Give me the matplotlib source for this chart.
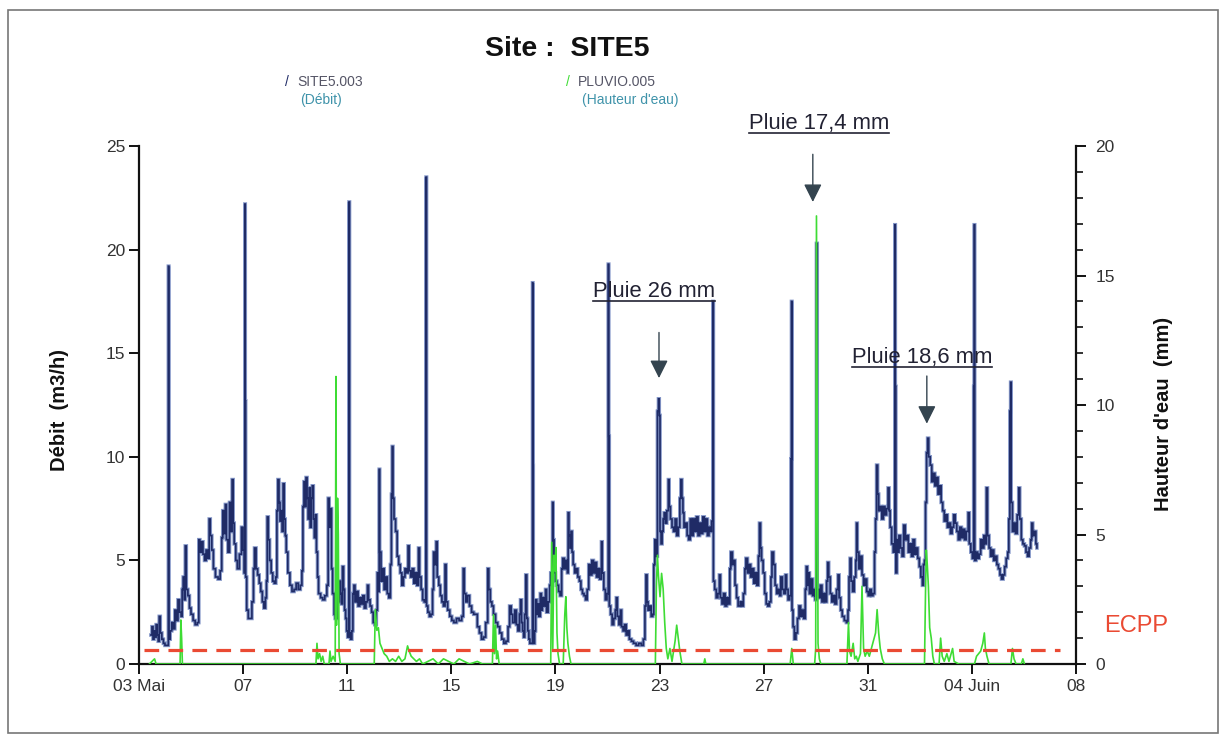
# -*- coding: utf-8 -*-
import numpy as np
import matplotlib
matplotlib.use('Agg')
import matplotlib.pyplot as plt
from matplotlib.lines import Line2D
from matplotlib.patches import Rectangle

plt.rcParams['font.family'] = ['Liberation Sans', 'DejaVu Sans']

# temps en jours depuis le 03 mai 00h, debit en m3/h
debit = [
    (0.46, 1.4), (0.50, 1.8), (0.54, 1.2), (0.58, 1.6), (0.62, 1.3), (0.66, 1.9), (0.70, 1.4),
    (0.74, 1.1), (0.78, 2.3), (0.82, 1.5), (0.88, 1.2), (0.94, 1.0), (1.00, 0.9), (1.08, 0.9),
    (1.13, 19.2), (1.15, 1.2), (1.20, 1.6), (1.26, 2.0), (1.32, 1.7), (1.38, 2.6), (1.44, 2.1),
    (1.50, 3.1), (1.56, 2.5), (1.62, 2.3), (1.66, 3.6), (1.70, 4.2), (1.74, 3.1), (1.78, 5.7),
    (1.82, 3.6), (1.88, 3.3), (1.94, 2.7), (2.00, 2.4), (2.08, 2.1), (2.16, 1.9), (2.24, 2.0),
    (2.30, 6.0), (2.34, 5.4), (2.40, 5.9), (2.46, 5.3), (2.52, 5.0), (2.58, 5.5), (2.64, 5.1),
    (2.70, 7.0), (2.74, 6.2), (2.80, 5.5), (2.86, 4.6), (2.94, 4.2), (3.04, 4.1), (3.12, 4.5),
    (3.18, 6.1), (3.22, 7.4), (3.26, 6.3), (3.32, 7.7), (3.36, 6.0), (3.42, 5.4), (3.48, 7.8),
    (3.52, 6.4), (3.58, 8.9), (3.62, 6.8), (3.66, 5.8), (3.72, 5.0), (3.78, 4.6), (3.86, 5.3),
    (3.94, 6.6), (4.00, 5.5), (4.04, 4.4), (4.07, 22.2), (4.085, 12.7), (4.10, 4.2), (4.14, 2.6),
    (4.20, 2.2), (4.28, 2.2), (4.34, 3.0), (4.40, 4.6), (4.44, 5.6), (4.50, 4.6), (4.56, 4.3),
    (4.62, 3.9), (4.68, 3.5), (4.74, 3.0), (4.80, 2.7), (4.86, 3.2), (4.90, 4.0), (4.93, 7.1),
    (4.97, 6.0), (5.02, 5.0), (5.08, 4.4), (5.14, 4.0), (5.20, 3.9), (5.26, 4.2), (5.30, 7.4),
    (5.34, 8.9), (5.38, 7.8), (5.42, 6.9), (5.46, 7.4), (5.50, 6.4), (5.54, 8.7), (5.58, 7.0),
    (5.62, 6.2), (5.66, 5.4), (5.72, 4.4), (5.80, 3.8), (5.88, 3.5), (5.96, 3.6), (6.04, 3.9),
    (6.12, 3.6), (6.20, 3.8), (6.26, 4.5), (6.30, 7.6), (6.34, 8.8), (6.38, 7.6), (6.42, 9.0),
    (6.46, 8.0), (6.50, 7.0), (6.54, 8.5), (6.58, 6.6), (6.62, 8.0), (6.66, 8.6), (6.70, 7.0),
    (6.74, 6.1), (6.78, 7.2), (6.82, 5.4), (6.86, 4.2), (6.90, 3.4), (6.98, 3.2), (7.06, 3.1),
    (7.14, 3.3), (7.22, 3.8), (7.27, 8.0), (7.31, 6.6), (7.36, 7.5), (7.40, 4.6), (7.44, 3.4),
    (7.50, 2.4), (7.54, 2.2), (7.58, 2.2), (7.62, 3.6), (7.66, 3.0), (7.70, 4.0), (7.74, 3.4),
    (7.78, 2.9), (7.82, 4.7), (7.86, 3.6), (7.90, 2.6), (7.94, 2.2), (7.98, 1.6), (8.02, 1.3),
    (8.07, 22.3), (8.09, 1.5), (8.13, 1.2), (8.18, 1.6), (8.22, 3.4), (8.26, 3.8), (8.30, 3.0),
    (8.36, 3.5), (8.42, 2.8), (8.48, 3.2), (8.54, 2.9), (8.60, 3.3), (8.66, 2.7), (8.72, 3.0),
    (8.78, 3.8), (8.82, 3.1), (8.88, 2.8), (8.94, 2.5), (9.00, 2.0), (9.06, 1.9), (9.12, 2.6),
    (9.16, 4.4), (9.20, 3.5), (9.23, 9.4), (9.25, 5.4), (9.30, 4.0), (9.36, 4.6), (9.42, 3.6),
    (9.48, 4.2), (9.54, 3.4), (9.60, 3.2), (9.66, 4.8), (9.70, 8.2), (9.73, 10.5), (9.76, 8.0),
    (9.80, 7.0), (9.86, 6.4), (9.92, 5.2), (9.98, 4.8), (10.04, 4.4), (10.10, 3.8), (10.16, 4.2),
    (10.22, 4.6), (10.28, 4.4), (10.34, 5.7), (10.38, 4.5), (10.44, 4.2), (10.50, 4.6),
    (10.56, 3.9), (10.62, 4.4), (10.68, 3.8), (10.74, 5.6), (10.78, 4.2), (10.84, 3.6),
    (10.90, 3.1), (10.96, 3.0), (11.03, 23.5), (11.05, 2.8), (11.10, 2.5), (11.16, 2.3),
    (11.22, 2.4), (11.28, 3.6), (11.32, 5.4), (11.36, 4.8), (11.42, 5.9), (11.46, 4.2),
    (11.52, 3.8), (11.58, 3.3), (11.64, 3.0), (11.70, 2.8), (11.76, 4.8), (11.80, 3.0),
    (11.86, 2.6), (11.94, 2.3), (12.02, 2.1), (12.10, 2.0), (12.20, 2.2), (12.30, 2.1),
    (12.40, 2.3), (12.46, 4.6), (12.50, 3.4), (12.56, 3.0), (12.62, 3.3), (12.70, 2.8),
    (12.78, 2.5), (12.86, 2.4), (12.94, 2.4), (13.00, 1.8), (13.08, 1.5), (13.16, 1.2),
    (13.24, 1.3), (13.32, 2.0), (13.40, 4.6), (13.44, 3.6), (13.50, 3.0), (13.56, 2.8),
    (13.62, 2.4), (13.70, 2.0), (13.78, 1.8), (13.86, 1.5), (13.94, 1.2), (14.02, 1.0),
    (14.10, 1.1), (14.18, 1.8), (14.24, 2.8), (14.30, 2.4), (14.36, 2.0), (14.44, 2.6),
    (14.50, 1.9), (14.56, 1.6), (14.62, 2.4), (14.66, 3.1), (14.70, 2.0), (14.74, 1.6),
    (14.78, 1.3), (14.82, 2.4), (14.86, 4.3), (14.90, 2.2), (14.94, 1.6), (14.98, 1.2),
    (15.02, 1.0), (15.08, 1.0), (15.12, 18.4), (15.135, 9.6), (15.15, 1.0), (15.20, 1.6),
    (15.24, 3.1), (15.28, 2.4), (15.32, 2.9), (15.36, 2.3), (15.42, 3.4), (15.46, 2.6),
    (15.50, 3.2), (15.56, 2.8), (15.62, 3.6), (15.66, 2.5), (15.72, 3.0), (15.78, 3.8),
    (15.82, 4.4), (15.86, 3.8), (15.89, 7.8), (15.91, 6.0), (15.95, 4.4), (16.00, 4.0),
    (16.06, 3.8), (16.12, 3.5), (16.18, 3.3), (16.24, 4.6), (16.28, 5.1), (16.34, 4.6),
    (16.40, 5.0), (16.46, 4.4), (16.49, 7.3), (16.52, 6.2), (16.56, 5.6), (16.60, 6.4),
    (16.64, 5.4), (16.68, 4.8), (16.74, 4.4), (16.80, 4.6), (16.86, 4.2), (16.92, 4.0),
    (16.98, 3.6), (17.04, 3.4), (17.10, 3.3), (17.16, 3.1), (17.22, 3.6), (17.28, 4.8),
    (17.34, 4.3), (17.40, 5.0), (17.46, 4.4), (17.52, 4.9), (17.58, 4.2), (17.64, 4.6),
    (17.70, 4.1), (17.77, 5.9), (17.80, 4.4), (17.86, 3.6), (17.92, 3.1), (17.98, 3.4),
    (18.03, 19.3), (18.05, 11.0), (18.07, 2.8), (18.12, 2.4), (18.18, 1.9), (18.24, 2.2),
    (18.30, 2.6), (18.34, 3.2), (18.38, 2.3), (18.44, 1.9), (18.50, 2.6), (18.54, 1.8),
    (18.60, 1.6), (18.66, 1.9), (18.72, 1.4), (18.78, 1.6), (18.84, 1.2), (18.92, 1.1),
    (19.00, 1.0), (19.10, 0.9), (19.20, 1.0), (19.30, 0.9), (19.38, 1.2), (19.44, 2.8),
    (19.48, 4.3), (19.52, 3.0), (19.56, 2.6), (19.62, 2.8), (19.68, 2.3), (19.74, 2.4),
    (19.78, 4.8), (19.82, 6.0), (19.86, 5.2), (19.92, 12.2), (19.96, 12.8), (19.99, 12.0),
    (20.02, 6.4), (20.06, 5.8), (20.10, 6.4), (20.14, 7.0), (20.18, 7.3), (20.22, 6.8),
    (20.28, 7.4), (20.34, 8.9), (20.37, 7.6), (20.42, 7.0), (20.48, 6.6), (20.54, 6.4),
    (20.60, 7.0), (20.66, 6.2), (20.72, 6.6), (20.78, 8.0), (20.82, 8.9), (20.86, 8.0),
    (20.90, 7.3), (20.94, 6.6), (21.00, 6.8), (21.06, 6.2), (21.12, 6.0), (21.18, 7.0),
    (21.24, 6.2), (21.30, 7.0), (21.36, 6.4), (21.42, 7.1), (21.48, 6.2), (21.54, 6.8),
    (21.60, 6.3), (21.66, 7.1), (21.72, 6.4), (21.78, 7.0), (21.84, 6.2), (21.90, 6.6),
    (21.96, 6.4), (22.00, 6.9), (22.05, 17.5), (22.07, 4.0), (22.12, 3.6), (22.18, 3.2),
    (22.24, 3.4), (22.30, 4.3), (22.34, 3.2), (22.40, 2.9), (22.46, 3.4), (22.52, 2.8),
    (22.58, 3.2), (22.64, 2.9), (22.70, 4.6), (22.74, 5.4), (22.80, 4.8), (22.86, 5.0),
    (22.90, 3.8), (22.96, 3.2), (23.02, 2.8), (23.10, 3.0), (23.16, 2.8), (23.22, 3.4),
    (23.28, 4.6), (23.32, 5.1), (23.38, 4.4), (23.44, 4.8), (23.50, 4.2), (23.56, 4.6),
    (23.62, 3.9), (23.68, 4.4), (23.74, 3.8), (23.80, 5.2), (23.84, 6.8), (23.88, 5.6),
    (23.92, 5.0), (23.98, 4.4), (24.04, 3.4), (24.10, 2.9), (24.16, 2.8), (24.22, 3.0),
    (24.28, 4.2), (24.32, 5.4), (24.38, 4.8), (24.44, 3.8), (24.50, 3.4), (24.56, 3.6),
    (24.62, 3.3), (24.66, 4.2), (24.72, 3.6), (24.78, 3.4), (24.84, 4.3), (24.88, 3.6),
    (24.94, 3.1), (25.00, 3.3), (25.05, 9.9), (25.07, 17.5), (25.09, 2.6), (25.13, 1.8),
    (25.18, 1.2), (25.24, 1.5), (25.30, 2.2), (25.36, 2.8), (25.42, 2.3), (25.48, 2.6),
    (25.54, 2.2), (25.60, 3.6), (25.64, 4.7), (25.68, 3.8), (25.72, 4.4), (25.76, 3.4),
    (25.82, 4.1), (25.88, 3.3), (25.94, 3.6), (25.98, 3.1), (26.03, 20.3), (26.06, 3.6),
    (26.12, 3.2), (26.18, 3.8), (26.24, 3.0), (26.30, 3.4), (26.36, 3.0), (26.42, 4.0),
    (26.46, 4.9), (26.50, 4.2), (26.56, 3.4), (26.62, 3.0), (26.68, 3.3), (26.74, 2.9),
    (26.80, 3.6), (26.86, 4.3), (26.90, 3.2), (26.96, 2.6), (27.02, 2.3), (27.10, 2.1),
    (27.18, 2.0), (27.24, 2.6), (27.28, 4.2), (27.32, 5.1), (27.36, 4.0), (27.42, 3.5),
    (27.48, 4.2), (27.54, 5.0), (27.57, 6.8), (27.60, 5.4), (27.66, 4.6), (27.72, 5.2),
    (27.78, 4.3), (27.84, 3.8), (27.90, 4.1), (27.96, 3.5), (28.02, 3.3), (28.08, 3.6),
    (28.14, 3.3), (28.20, 3.4), (28.26, 5.4), (28.30, 7.0), (28.34, 9.6), (28.38, 8.2),
    (28.42, 7.4), (28.48, 7.6), (28.54, 7.0), (28.60, 7.6), (28.66, 7.2), (28.72, 7.5),
    (28.78, 8.5), (28.82, 7.4), (28.86, 6.6), (28.92, 5.8), (28.98, 5.4), (29.04, 21.2),
    (29.06, 13.4), (29.08, 4.4), (29.12, 6.0), (29.16, 5.4), (29.20, 6.2), (29.26, 5.6),
    (29.32, 5.2), (29.38, 6.7), (29.44, 6.0), (29.50, 6.2), (29.56, 5.4), (29.62, 5.8),
    (29.68, 5.2), (29.74, 6.0), (29.80, 5.3), (29.86, 5.6), (29.92, 5.1), (29.98, 4.7),
    (30.04, 4.2), (30.10, 3.8), (30.14, 4.8), (30.18, 5.0), (30.22, 7.8), (30.26, 10.2),
    (30.30, 10.9), (30.34, 10.0), (30.40, 9.6), (30.46, 8.8), (30.52, 9.2), (30.58, 8.6),
    (30.64, 9.0), (30.70, 8.2), (30.76, 8.6), (30.82, 7.8), (30.88, 7.4), (30.94, 6.9),
    (31.00, 7.2), (31.06, 6.6), (31.12, 6.8), (31.18, 6.3), (31.24, 6.6), (31.30, 7.2),
    (31.36, 6.8), (31.42, 6.4), (31.48, 6.0), (31.54, 6.6), (31.60, 6.1), (31.66, 6.5),
    (31.72, 6.0), (31.78, 6.4), (31.86, 7.3), (31.90, 5.8), (31.96, 5.4), (32.02, 5.1),
    (32.07, 13.4), (32.09, 21.2), (32.11, 5.0), (32.16, 5.4), (32.22, 5.1), (32.28, 5.3),
    (32.34, 6.0), (32.40, 5.6), (32.46, 6.2), (32.52, 5.8), (32.56, 8.5), (32.60, 6.2),
    (32.66, 5.6), (32.72, 5.2), (32.78, 5.5), (32.84, 5.0), (32.90, 5.2), (32.96, 4.8),
    (33.02, 4.6), (33.08, 4.3), (33.14, 4.1), (33.20, 4.3), (33.26, 4.7), (33.32, 5.1),
    (33.38, 5.4), (33.42, 7.0), (33.46, 12.2), (33.49, 13.6), (33.51, 7.8), (33.56, 6.4),
    (33.62, 6.8), (33.68, 6.3), (33.74, 7.2), (33.80, 8.5), (33.84, 7.0), (33.90, 6.0),
    (33.96, 5.8), (34.02, 5.7), (34.08, 5.4), (34.14, 5.2), (34.20, 5.6), (34.26, 6.0),
    (34.30, 6.8), (34.34, 6.2), (34.40, 6.4), (34.46, 5.8), (34.50, 5.6),
]

# hauteur d'eau du pluviometre en mm
pluie = [
    (0.40, 0.0), (0.60, 0.2), (0.66, 0.0), (1.58, 0.0), (1.61, 1.7), (1.64, 1.0), (1.67, 0.0),
    (6.80, 0.0), (6.84, 0.8), (6.88, 0.2), (6.94, 0.4), (7.00, 0.1), (7.06, 0.3), (7.12, 0.0),
    (7.30, 0.0), (7.34, 0.5), (7.38, 0.1), (7.46, 0.3), (7.54, 0.1), (7.57, 11.1), (7.59, 1.5),
    (7.63, 6.4), (7.66, 5.0), (7.69, 0.4), (7.74, 0.0), (9.04, 0.0), (9.08, 2.1), (9.14, 1.3),
    (9.20, 1.4), (9.26, 0.8), (9.34, 0.6), (9.42, 0.4), (9.52, 0.3), (9.62, 0.1), (9.74, 0.2),
    (9.86, 0.1), (9.98, 0.3), (10.10, 0.1), (10.22, 0.2), (10.32, 0.7), (10.38, 0.5),
    (10.46, 0.3), (10.56, 0.2), (10.66, 0.1), (10.78, 0.2), (10.90, 0.0), (11.10, 0.1),
    (11.30, 0.2), (11.50, 0.0), (11.70, 0.2), (11.90, 0.1), (12.10, 0.0), (12.30, 0.2),
    (12.50, 0.1), (12.70, 0.0), (13.00, 0.1), (13.20, 0.0), (13.58, 0.0), (13.62, 1.9),
    (13.66, 0.4), (13.70, 1.5), (13.74, 0.2), (13.78, 0.5), (13.84, 0.0), (15.82, 0.0),
    (15.86, 4.7), (15.90, 0.6), (15.94, 4.2), (15.98, 3.6), (16.02, 4.5), (16.06, 1.2),
    (16.10, 0.4), (16.16, 0.0), (16.30, 0.0), (16.36, 1.9), (16.40, 2.6), (16.44, 1.4),
    (16.48, 0.8), (16.54, 0.3), (16.60, 0.0), (19.84, 0.0), (19.88, 3.0), (19.92, 4.2),
    (19.96, 3.4), (20.02, 2.6), (20.08, 3.5), (20.14, 2.9), (20.20, 1.6), (20.26, 0.6),
    (20.32, 0.2), (20.40, 0.6), (20.48, 0.1), (20.60, 0.9), (20.66, 1.5), (20.72, 1.0),
    (20.78, 0.5), (20.86, 0.0), (21.70, 0.0), (21.74, 0.2), (21.78, 0.0), (25.02, 0.0),
    (25.08, 0.6), (25.14, 0.0), (25.96, 0.0), (26.00, 0.6), (26.03, 17.3), (26.06, 9.0),
    (26.09, 0.8), (26.14, 0.2), (26.20, 0.0), (27.20, 0.0), (27.26, 1.6), (27.30, 0.5),
    (27.36, 0.3), (27.44, 0.8), (27.50, 0.2), (27.56, 0.3), (27.62, 0.1), (27.72, 0.4),
    (27.78, 3.0), (27.84, 0.6), (27.90, 0.3), (27.98, 0.5), (28.06, 0.3), (28.14, 0.6),
    (28.22, 0.9), (28.30, 1.2), (28.36, 2.1), (28.42, 1.2), (28.48, 0.6), (28.56, 0.2),
    (28.64, 0.0), (30.18, 0.0), (30.22, 2.8), (30.25, 4.4), (30.29, 3.8), (30.33, 3.0),
    (30.38, 1.4), (30.44, 1.0), (30.50, 0.3), (30.56, 0.0), (30.74, 0.0), (30.80, 1.0),
    (30.86, 0.3), (30.94, 0.1), (31.04, 0.4), (31.12, 0.1), (31.26, 0.6), (31.32, 0.1),
    (31.50, 0.0), (32.10, 0.0), (32.18, 0.3), (32.26, 0.4), (32.34, 0.5), (32.42, 0.8),
    (32.48, 1.2), (32.52, 0.6), (32.58, 0.3), (32.66, 0.0), (33.50, 0.0), (33.56, 0.6),
    (33.62, 0.2), (33.70, 0.0), (33.90, 0.0), (33.96, 0.2), (34.02, 0.0),
]

ecpp = 0.7                    # seuil ECPP en m3/h
ecpp_debut, ecpp_fin = 0.2, 35.4

jours_ticks = [0, 4, 8, 12, 16, 20, 24, 28, 32, 36]
jours_labels = ['03 Mai', '07', '11', '15', '19', '23', '27', '31', '04 Juin', '08']

# (texte, jour, position texte, jour fleche, debut fleche, pointe fleche) sur l'echelle de gauche
pluies = [
    ('Pluie 17,4 mm', 26.12, 26.1, 25.89, 24.6, 22.3),
    ('Pluie 26 mm', 19.78, 18.0, 19.98, 16.0, 13.8),
    ('Pluie 18,6 mm', 30.08, 14.8, 30.27, 13.9, 11.6),
]

W, H = 1222, 736
fig = plt.figure(figsize=(W / 100, H / 100), dpi=100)
fig.patch.set_facecolor('white')
ax = fig.add_axes([0.1137, 0.0978, 0.7668, 0.7038])
ax2 = ax.twinx()

d = np.array(debit)
p = np.array(pluie)

# debit : trait bleu fonce avec un bord plus clair (aspect scanne)
ax.plot(d[:, 0], d[:, 1], drawstyle='steps-post', color='#8698c9', lw=2.6, solid_joinstyle='miter')
ax.plot(d[:, 0], d[:, 1], drawstyle='steps-post', color='#1f2b66', lw=1.2, solid_joinstyle='miter')

ax2.plot(p[:, 0], p[:, 1], color='#3edc34', lw=1.2)
ax2.plot([ecpp_debut, ecpp_fin], [ecpp, ecpp], transform=ax.transData,
         color='#ea4a33', lw=2.3, dashes=(4.6, 2.9), zorder=5)

ax.set_xlim(0, 36)
ax.set_ylim(0, 25)
ax2.set_ylim(0, 20)

ax.set_xticks(jours_ticks)
ax.set_xticklabels(jours_labels)
ax.set_yticks([0, 5, 10, 15, 20, 25])
ax2.set_yticks([0, 5, 10, 15, 20])
ax2.set_yticks(np.arange(0, 21, 1), minor=True)

for a in (ax, ax2):
    a.spines['top'].set_visible(False)
    for s in a.spines.values():
        s.set_linewidth(1.6)
        s.set_color('#111111')
ax.spines['right'].set_visible(False)
ax2.spines['left'].set_visible(False)
ax2.spines['bottom'].set_visible(False)

ax.tick_params(axis='both', direction='out', length=7, width=1.4, labelsize=12.5,
               labelcolor='#333333', color='#111111')
ax.tick_params(axis='x', pad=4)
ax.tick_params(axis='y', pad=3)
ax2.tick_params(axis='y', which='major', direction='out', length=7, width=1.4, labelsize=12.5,
                labelcolor='#333333', color='#111111', pad=7)
ax2.tick_params(axis='y', which='minor', direction='out', length=5, width=1.2, color='#111111')

fig.text(0.049, 0.443, 'Débit  (m3/h)', rotation=90, ha='center', va='center',
         fontsize=14.5, fontweight='bold', color='#111111')
fig.text(0.952, 0.437, "Hauteur d'eau  (mm)", rotation=90, ha='center', va='center',
         fontsize=14.5, fontweight='bold', color='#111111')

fig.text(0.464, 0.933, 'Site :  SITE5', ha='center', va='center',
         fontsize=20.5, fontweight='bold', color='#111111')

# legende facon logiciel
fig.text(287 / W, 1 - 82 / H, '/', ha='center', va='center', fontsize=10, color='#1f2b66')
fig.text(297 / W, 1 - 82 / H, 'SITE5.003', ha='left', va='center', fontsize=10, color='#555566')
fig.text(300 / W, 1 - 100 / H, '(Débit)', ha='left', va='center', fontsize=10, color='#3f93aa')
fig.text(568 / W, 1 - 82 / H, '/', ha='center', va='center', fontsize=10, color='#3edc34')
fig.text(578 / W, 1 - 82 / H, 'PLUVIO.005', ha='left', va='center', fontsize=10, color='#555566')
fig.text(582 / W, 1 - 100 / H, "(Hauteur d'eau)", ha='left', va='center', fontsize=10, color='#3f93aa')

fig.text(1136 / W, 1 - 626 / H, 'ECPP', ha='center', va='center', fontsize=17, color='#ea4a33')

textes = []
for txt, jx, jy, fx, f0, f1 in pluies:
    t = ax.text(jx, jy, txt, ha='center', va='center', fontsize=15.8, color='#222233', clip_on=False)
    textes.append(t)
    ax.annotate('', xy=(fx, f1), xytext=(fx, f0), annotation_clip=False,
                arrowprops=dict(arrowstyle='-|>,head_length=1.1,head_width=0.55',
                                mutation_scale=10, color='#34444f', lw=1.0,
                                shrinkA=0, shrinkB=0))

# soulignement des textes de pluie
fig.canvas.draw()
for t in textes:
    bb = t.get_window_extent()
    yl = (bb.y0 + 1) / H
    fig.add_artist(Line2D([bb.x0 / W, bb.x1 / W], [yl, yl], transform=fig.transFigure,
                          color='#222233', lw=1.2))

# cadre de la page scannee
fig.add_artist(Rectangle((8 / W, 3 / H), 1210 / W, 723 / H, transform=fig.transFigure,
                         fill=False, ec='#777777', lw=1.2))

plt.savefig('out.png', dpi=100)
plt.close()
